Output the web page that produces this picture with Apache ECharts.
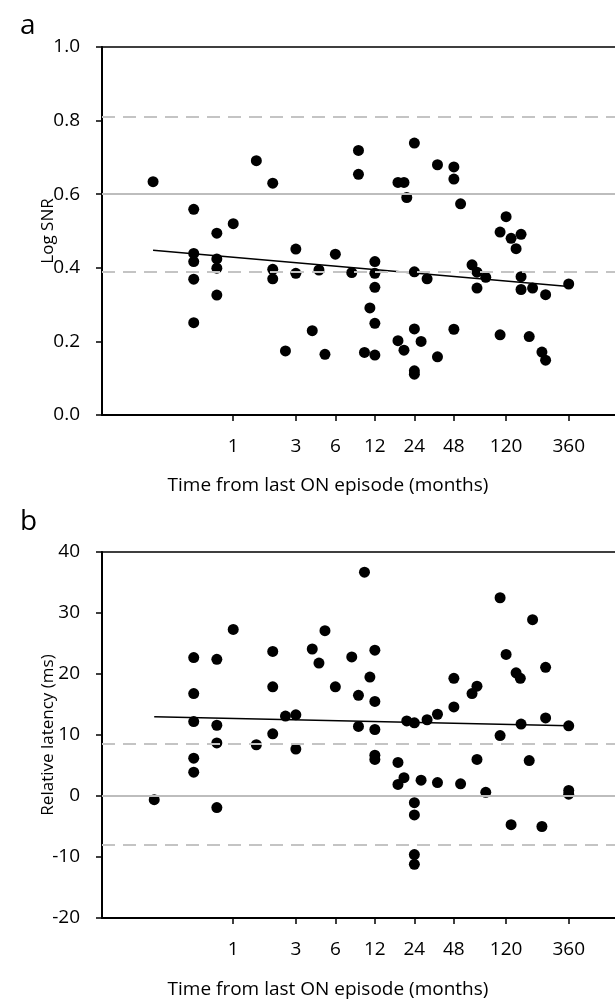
<!DOCTYPE html>
<html>
<head>
<meta charset="utf-8">
<style>
html,body{margin:0;padding:0;background:#fff;}
#chart{width:615px;height:1002px;}
</style>
<script src="https://cdn.jsdelivr.net/npm/echarts@6/dist/echarts.min.js"></script>
</head>
<body>
<div id="chart"></div>
<script>
// ---- Data (months from last ON episode, log x-scale) ----
const monthsA = [0.245,0.5,0.5,0.5,0.5,0.5,0.75,0.75,0.75,0.75,1,1.5,2,2,2,2.5,3,3,4,4.5,5,6,8,9,9,10,11,12,12,12,12,12,18,18,20,20,21,24,24,24,24,24,27,30,36,36,48,48,48,54,66,72,72,84,108,108,120,131,143,156,156,156,180,191,225,240,240,360];
const snrA = [0.634,0.559,0.439,0.417,0.369,0.251,0.494,0.424,0.399,0.326,0.52,0.691,0.630,0.396,0.370,0.174,0.451,0.385,0.229,0.394,0.165,0.437,0.387,0.719,0.654,0.170,0.291,0.417,0.385,0.347,0.249,0.163,0.632,0.202,0.632,0.176,0.591,0.739,0.389,0.234,0.120,0.111,0.200,0.370,0.680,0.158,0.674,0.641,0.233,0.574,0.408,0.388,0.345,0.374,0.497,0.218,0.539,0.480,0.452,0.491,0.376,0.341,0.213,0.345,0.171,0.327,0.149,0.356];

const monthsB = [0.25,0.5,0.5,0.5,0.5,0.5,0.75,0.75,0.75,0.75,1,1.5,2,2,2,2.5,3,3,4,4.5,5,6,8,9,9,10,11,12,12,12,12,12,18,18,20,21,24,24,24,24,24,27,30,36,36,48,48,54,66,72,72,84,108,108,120,131,143,154,156,180,191,225,240,240,360,360,360];
const latencyB = [-0.6,22.7,16.8,12.2,6.2,3.9,22.4,11.6,8.7,-1.9,27.3,8.4,23.7,17.9,10.2,13.1,13.3,7.7,24.1,21.8,27.1,17.9,22.8,16.5,11.4,36.7,19.5,23.9,15.5,10.9,6.7,6.0,5.5,1.9,3.0,12.3,12.0,-1.1,-3.1,-9.6,-11.2,2.6,12.5,13.4,2.2,19.3,14.6,2.0,16.8,18.0,6.0,0.6,32.5,9.9,23.2,-4.7,20.2,19.3,11.8,5.8,28.9,-5.0,21.1,12.8,11.5,0.9,0.3];

// regression line end points
const fitMonthsA = [0.245, 360];
const fitValuesA = [0.448, 0.349];
const fitMonthsB = [0.25, 360];
const fitValuesB = [13.0, 11.5];

// reference lines
const solidRefA = [0.6];
const dashedRefA = [0.81, 0.39];
const solidRefB = [0];
const dashedRefB = [8.5, -8];

// tick labels
const tickMonths = [1, 3, 6, 12, 24, 48, 120, 360];

// ---- Build ----
const FONT = '"Open Sans", "Noto Sans", sans-serif';
const TXT = '#000';
const tickLog = tickMonths.map(m => Math.log10(m));
const labelFor = v => {
  const i = tickLog.findIndex(t => Math.abs(t - v) < 1e-6);
  return i >= 0 ? String(tickMonths[i]) : '';
};
const pts = (xs, ys) => xs.map((m, i) => [Math.log10(m), ys[i]]);

function xBottom(g) {
  return {
    type: 'value', gridIndex: g, min: -1, max: 2.909,
    axisLine: {show: true, onZero: false, lineStyle: {color: '#000', width: 2}},
    axisTick: {show: true, length: 6, customValues: tickLog, lineStyle: {color: '#000', width: 1.5}},
    axisLabel: {customValues: tickLog, formatter: labelFor, margin: 22, fontSize: 19, fontFamily: FONT, color: TXT},
    splitLine: {show: false}
  };
}
function xTop(g) {
  return {
    type: 'value', gridIndex: g, position: 'top', min: -1, max: 2.909,
    axisLine: {show: true, onZero: false, lineStyle: {color: '#000', width: 1.5}},
    axisTick: {show: false}, axisLabel: {show: false}, splitLine: {show: false}
  };
}
function yAxis(g, min, max, interval, name, fmt) {
  return {
    type: 'value', gridIndex: g, min, max, interval,
    axisLine: {show: true, onZero: false, lineStyle: {color: '#000', width: 2}},
    axisTick: {show: true, length: 6, lineStyle: {color: '#000', width: 1.5}},
    axisLabel: {margin: 22, fontSize: 19, fontFamily: FONT, color: TXT, formatter: fmt},
    splitLine: {show: false},
    name, nameLocation: 'middle', nameGap: 45, nameMoveOverlap: false,
    nameTextStyle: {fontSize: 17, fontFamily: FONT, color: TXT}
  };
}
function refLines(solid, dashed) {
  return {
    silent: true, symbol: 'none', label: {show: false},
    data: [
      ...solid.map(v => ({yAxis: v, lineStyle: {color: '#bdbdbd', width: 2, type: 'solid'}})),
      ...dashed.map(v => ({yAxis: v, lineStyle: {color: '#c4c4c4', width: 2, type: [13, 8]}}))
    ]
  };
}

const chart = echarts.init(document.getElementById('chart'), null, {renderer: 'canvas'});
chart.setOption({
  animation: false,
  backgroundColor: '#fff',
  grid: [
    {left: 102, right: 0, top: 47, height: 368},
    {left: 102, right: 0, top: 552, height: 366}
  ],
  xAxis: [xBottom(0), xTop(0), xBottom(1), xTop(1)],
  yAxis: [
    yAxis(0, 0, 1, 0.2, 'Log SNR', v => v.toFixed(1)),
    yAxis(1, -20, 40, 10, 'Relative latency (ms)', v => String(v))
  ],
  graphic: [
    {type: 'text', x: 20, y: 26, style: {text: 'a', font: '28px ' + FONT, fill: TXT, verticalAlign: 'middle'}},
    {type: 'text', x: 20, y: 522, style: {text: 'b', font: '28px ' + FONT, fill: TXT, verticalAlign: 'middle'}},
    {type: 'text', x: 328, y: 486, style: {text: 'Time from last ON episode (months)', font: '19px ' + FONT, fill: TXT, align: 'center', verticalAlign: 'middle'}},
    {type: 'text', x: 328, y: 990, style: {text: 'Time from last ON episode (months)', font: '19px ' + FONT, fill: TXT, align: 'center', verticalAlign: 'middle'}}
  ],
  series: [
    {type: 'line', xAxisIndex: 0, yAxisIndex: 0, z: 1, symbol: 'none',
     lineStyle: {color: '#000', width: 1.5}, data: pts(fitMonthsA, fitValuesA),
     markLine: refLines(solidRefA, dashedRefA)},
    {type: 'scatter', xAxisIndex: 0, yAxisIndex: 0, z: 3, symbolSize: 11,
     itemStyle: {color: '#000', opacity: 1}, data: pts(monthsA, snrA)},
    {type: 'line', xAxisIndex: 2, yAxisIndex: 1, z: 1, symbol: 'none',
     lineStyle: {color: '#000', width: 1.5}, data: pts(fitMonthsB, fitValuesB),
     markLine: refLines(solidRefB, dashedRefB)},
    {type: 'scatter', xAxisIndex: 2, yAxisIndex: 1, z: 3, symbolSize: 11,
     itemStyle: {color: '#000', opacity: 1}, data: pts(monthsB, latencyB)}
  ]
});
</script>
</body>
</html>
